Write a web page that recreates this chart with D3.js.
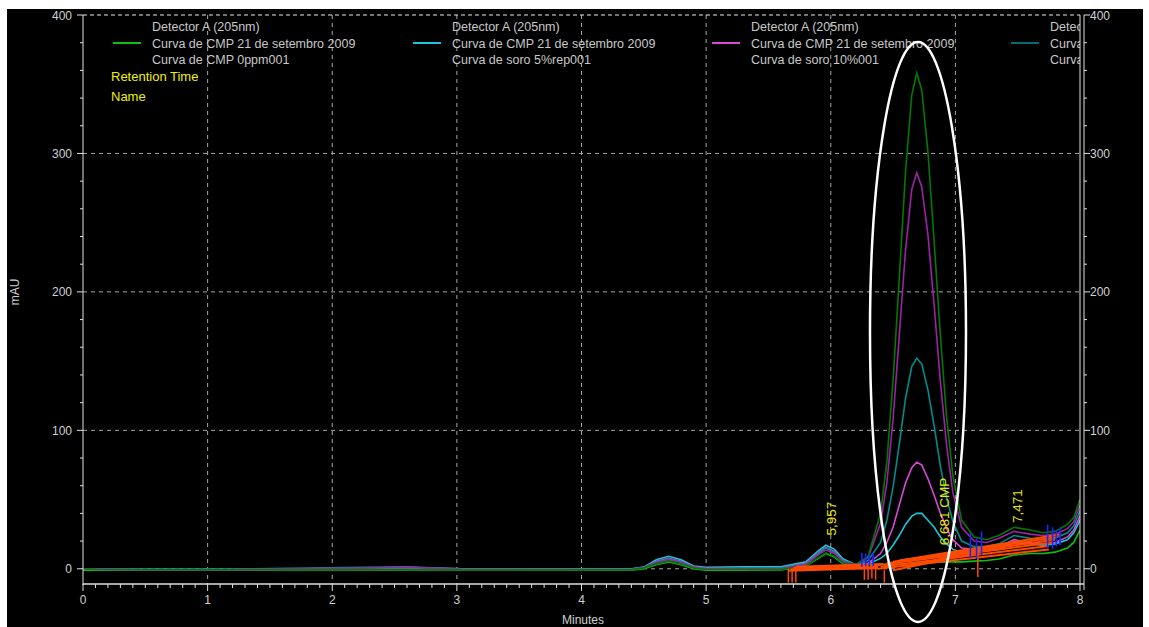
<!DOCTYPE html>
<html>
<head>
<meta charset="utf-8">
<script src="https://cdn.jsdelivr.net/npm/d3@7/dist/d3.min.js"></script>
<style>
  html, body { margin: 0; padding: 0; background: #ffffff; }
  svg { display: block; }
  text { font-family: "Liberation Sans", Arial, sans-serif; }
</style>
</head>
<body>
<svg id="chart" width="1149" height="627"></svg>
<script>
// Retention times (minutes) at which every chromatogram is sampled
const times = [0, 0.1, 0.5, 1.15, 2.25, 2.6, 3.05, 4.4, 4.5, 4.6, 4.7, 4.8, 4.9, 5.0, 5.3, 5.6, 5.8, 5.9, 5.96, 6.03, 6.1,
               6.2, 6.3, 6.4, 6.45, 6.5, 6.55, 6.6, 6.65, 6.69, 6.73, 6.78, 6.83, 6.88, 6.93, 6.98, 7.05, 7.15, 7.25, 7.35, 7.47, 7.6, 7.7, 7.8, 7.9, 7.95, 8.0];

// Detector A (205nm) signal, mAU
const cmp0ppm = [-1, -1, -0.8, -0.8, -0.8, -0.8, -0.8, -1, 0, 3, 5, 3, 0, -1, -1, -0.8, 2, 7.5, 11, 8.5, 3.5,
                 2, 2.5, 3, 3, 3, 3.5, 3.5, 4, 4, 4, 4.5, 4.5, 5, 5, 5, 5, 5.5, 6, 7, 10, 11, 11, 12, 15, 19, 28];
const soro5 = [0, 0, -0.3, -0.3, 0, 0.5, 0, 0, 1.2, 6.5, 9, 6.5, 2, 1, 1.5, 1.5, 5, 13, 17, 14, 7,
               3, 3.5, 7.5, 11, 17, 24, 32, 38, 40, 40, 35, 30, 23, 18, 14, 12, 12, 13, 14, 19, 18, 17, 18, 21, 26, 35];
const soro10 = [0, -0.3, -1, -1, 0.5, 1, 0, -0.3, 1, 5.5, 7.5, 5.5, 1.5, 0.5, 0.5, 0.5, 4, 11.5, 15.5, 12.5, 6,
                3, 4, 11, 19, 30, 46, 62, 73, 77, 75, 65, 53, 40, 29, 21, 15, 14, 14, 16, 21, 19, 18, 19, 23, 28, 38];
const serie4 = [0, 0, -0.3, -0.3, 1, 1.5, -0.3, -0.3, 1, 5, 7, 5, 1.2, 0.2, 0.5, 0.5, 3.5, 11, 15, 12, 6,
                3, 6, 19, 35, 59, 90, 123, 146, 152, 148, 129, 103, 74, 51, 34, 20, 16, 16, 18, 24, 22, 21, 22, 26, 31, 42];
const serie5 = [0, -0.2, -0.5, -0.5, 0.5, 1, -0.5, -0.5, 0.8, 4.5, 6.5, 4.5, 1, 0, 0, 0, 3, 10, 13.5, 11, 5,
                3, 8, 33, 62, 108, 169, 230, 274, 286, 276, 241, 190, 135, 89, 55, 30, 20, 19, 22, 27, 25, 24, 25, 29, 34, 46];
const serie6 = [0, -0.5, -0.8, -0.8, -0.5, -0.5, -0.8, -0.8, 0.5, 3.5, 5.5, 3.5, 0.5, -0.5, -0.5, -0.5, 2, 8, 11.5, 9, 4,
                3, 9, 40, 77, 136, 210, 287, 342, 358, 346, 301, 236, 168, 109, 67, 35, 23, 21, 24, 30, 28, 26, 27, 32, 37, 50];

const seriesValues = [cmp0ppm, soro5, soro10, serie4, serie5, serie6];
const seriesColors = ["#10c010", "#18c8d8", "#d848d8", "#008c8c", "#a020a8", "#007a00"];

// Legend entries (three text rows each); the last column runs into the plot edge
const legendHeaders = ["Detector A (205nm)", "Detector A (205nm)", "Detector A (205nm)", "Detec"];
const legendTitles = ["Curva de CMP 21 de setembro 2009", "Curva de CMP 21 de setembro 2009", "Curva de CMP 21 de setembro 2009", "Curva"];
const legendSamples = ["Curva de CMP 0ppm001", "Curva de soro 5%rep001", "Curva de soro 10%001", "Curva"];
const legendColors = ["#10c010", "#18c8d8", "#d848d8", "#006c74"];

// Integration baselines [t0, v0, t1, v1]
const baselineSegs = [
  [5.66, -1.5, 6.38, 0.5], [5.68, -0.5, 6.38, 1.5], [5.70, 0.5, 6.40, 2.5], [5.72, 1.5, 6.42, 3.5],
  [6.38, 0.0, 7.75, 14], [6.40, 1.5, 7.75, 16.5], [6.42, 3.0, 7.78, 19], [6.45, 4.0, 7.80, 21],
  [6.50, 5.0, 7.82, 23], [6.55, 6.0, 7.85, 25], [6.50, -1.0, 7.20, 12], [6.60, 1.0, 7.25, 15]
];
// Peak start/end markers [t, vTop, vBottom]
const orangeMarks = [[5.66, 0, -10], [5.69, 0, -10], [5.72, 0, -10], [6.27, 3, -8], [6.30, 3, -8], [6.33, 3, -7],
                     [6.36, 3, -8], [6.43, -1, -10], [7.18, 14, -6]];
const blueMarks = [[6.25, 11.5, 1.5], [6.28, 11, 2], [6.31, 11, 1.5], [6.34, 11.5, 2], [7.12, 26, 8], [7.17, 22, 7],
                   [7.21, 27, 10], [7.74, 32, 15], [7.78, 30, 14], [7.81, 28, 16], [7.84, 30, 17]];

// Peak annotations
const peakLabels = [
  { t: 5.957, text: "5,957", v: 24, dx: 11 },
  { t: 6.681, text: "6,681  CMP", v: 17, dx: 33 },
  { t: 7.471, text: "7,471", v: 33, dx: 8 }
];
const yTicks = [0, 100, 200, 300, 400];
const xTicks = [0, 1, 2, 3, 4, 5, 6, 7, 8];

const svg = d3.select("#chart");
const pLeft = 83, pRight = 1080, pTop = 15, pBottom = 584;

svg.append("rect").attr("x", 7).attr("y", 9).attr("width", 1136).attr("height", 618).attr("fill", "#000");

const x = d3.scaleLinear().domain([0, 8]).range([pLeft, pRight]);
const y = d3.scaleLinear().domain([-11, 400]).range([pBottom, pTop]);

const defs = svg.append("defs");
defs.append("clipPath").attr("id", "plotClip")
  .append("rect").attr("x", pLeft).attr("y", pTop).attr("width", pRight - pLeft).attr("height", pBottom - pTop);
defs.append("clipPath").attr("id", "edgeClip")
  .append("rect").attr("x", 1110).attr("y", 250).attr("width", 14).attr("height", 80);

// Grid
const grid = svg.append("g");
grid.selectAll(".vg").data(xTicks.slice(1, -1)).join("line")
  .attr("x1", d => x(d)).attr("x2", d => x(d)).attr("y1", pTop).attr("y2", pBottom)
  .attr("stroke", "#a8a8a8").attr("stroke-dasharray", "4,4");
grid.selectAll(".hg").data([0, 100, 200, 300]).join("line")
  .attr("x1", pLeft).attr("x2", pRight).attr("y1", d => y(d)).attr("y2", d => y(d))
  .attr("stroke", "#a8a8a8").attr("stroke-dasharray", "4,4");
grid.append("line").attr("x1", pLeft).attr("x2", pRight).attr("y1", y(400)).attr("y2", y(400))
  .attr("stroke", "#e8e8e8").attr("stroke-dasharray", "4,3").attr("stroke-width", 1.2);

// Legend
const leg = svg.append("g").attr("clip-path", "url(#plotClip)");
const colX = [152, 452, 751, 1050];
colX.forEach((cx, i) => {
  leg.append("line").attr("x1", cx - 39).attr("x2", cx - 11).attr("y1", 43).attr("y2", 43)
    .attr("stroke", legendColors[i]).attr("stroke-width", 2);
  [legendHeaders[i], legendTitles[i], legendSamples[i]].forEach((t, r) => {
    leg.append("text").attr("x", cx).attr("y", 31 + r * 16.5).attr("fill", "#c8c8c8")
      .attr("font-size", 12.5).text(t);
  });
});
svg.append("text").attr("x", 111).attr("y", 81).attr("fill", "#f0f000").attr("font-size", 13).text("Retention Time");
svg.append("text").attr("x", 111).attr("y", 101).attr("fill", "#f0f000").attr("font-size", 13).text("Name");

// Chromatograms
const line = d3.line().x((d, i) => x(times[i])).y(d => y(d));
const traces = svg.append("g").attr("clip-path", "url(#plotClip)");
seriesValues.forEach((vals, i) => {
  traces.append("path").datum(vals).attr("d", line).attr("fill", "none")
    .attr("stroke", seriesColors[i]).attr("stroke-width", 1.6);
});

// Integration baselines and peak markers
traces.selectAll(".bl").data(baselineSegs).join("line")
  .attr("x1", d => x(d[0])).attr("y1", d => y(d[1])).attr("x2", d => x(d[2])).attr("y2", d => y(d[3]))
  .attr("stroke", "#ff4a00").attr("stroke-width", 2);
traces.selectAll(".om").data(orangeMarks).join("line")
  .attr("x1", d => x(d[0])).attr("x2", d => x(d[0])).attr("y1", d => y(d[1])).attr("y2", d => y(d[2]))
  .attr("stroke", "#ff4a00").attr("stroke-width", 1.5);
traces.selectAll(".bm").data(blueMarks).join("line")
  .attr("x1", d => x(d[0])).attr("x2", d => x(d[0])).attr("y1", d => y(d[1])).attr("y2", d => y(d[2]))
  .attr("stroke", "#1428ff").attr("stroke-width", 1.6);

// Peak labels
svg.selectAll(".pl").data(peakLabels).join("text")
  .attr("transform", d => `translate(${x(d.t) + d.dx},${y(d.v)}) rotate(-90)`)
  .attr("fill", "#e8e800").attr("font-size", 13.5).text(d => d.text);

// Axes frame
const ax = svg.append("g").attr("stroke", "#e0e0e0").attr("fill", "none");
ax.append("line").attr("x1", pLeft).attr("x2", pLeft).attr("y1", pTop).attr("y2", pBottom + 1);
ax.append("line").attr("x1", pLeft).attr("x2", pRight + 4).attr("y1", pBottom).attr("y2", pBottom).attr("stroke-width", 1.5);
ax.append("line").attr("x1", pRight).attr("x2", pRight).attr("y1", pTop).attr("y2", pBottom);
ax.append("line").attr("x1", pRight + 4).attr("x2", pRight + 4).attr("y1", pTop).attr("y2", pBottom + 6);

// Left and right axis ticks
const yMinor = d3.range(0, 401, 20);
ax.selectAll(".ly").data(yMinor).join("line")
  .attr("x1", d => d % 100 === 0 ? pLeft - 6 : pLeft - 3).attr("x2", pLeft)
  .attr("y1", d => y(d)).attr("y2", d => y(d));
ax.selectAll(".ry").data(yMinor).join("line")
  .attr("x1", pRight + 4).attr("x2", d => d % 100 === 0 ? pRight + 10 : pRight + 7)
  .attr("y1", d => y(d)).attr("y2", d => y(d));
svg.selectAll(".lyl").data(yTicks).join("text")
  .attr("x", pLeft - 11).attr("y", d => y(d) + 4.5).attr("text-anchor", "end")
  .attr("fill", "#d0d0d0").attr("font-size", 12).text(d => d);
svg.selectAll(".ryl").data(yTicks).join("text")
  .attr("x", pRight + 10).attr("y", d => y(d) + 4.5).attr("text-anchor", "start")
  .attr("fill", "#d0d0d0").attr("font-size", 12).text(d => d);

// Bottom axis ticks
const xMinor = d3.range(0, 80.5, 1).map(d => d / 10);
ax.selectAll(".bx").data(xMinor).join("line")
  .attr("x1", d => x(d)).attr("x2", d => x(d)).attr("y1", pBottom)
  .attr("y2", (d, i) => i % 10 === 0 ? pBottom + 7 : pBottom + 4);
svg.selectAll(".bxl").data(xTicks).join("text")
  .attr("x", d => x(d)).attr("y", pBottom + 20).attr("text-anchor", "middle")
  .attr("fill", "#d0d0d0").attr("font-size", 12).text(d => d);

// Axis titles
svg.append("text").attr("x", 583).attr("y", 624).attr("text-anchor", "middle")
  .attr("fill", "#d0d0d0").attr("font-size", 12).text("Minutes");
svg.append("text").attr("transform", `translate(19,${y(200)}) rotate(-90)`).attr("text-anchor", "middle")
  .attr("fill", "#d0d0d0").attr("font-size", 12).text("mAU");
svg.append("text").attr("clip-path", "url(#edgeClip)")
  .attr("transform", `translate(1131,${y(200)}) rotate(-90)`).attr("text-anchor", "middle")
  .attr("fill", "#d0d0d0").attr("font-size", 12).text("mAU");

// Highlight around the CMP peak
svg.append("ellipse").attr("cx", x(6.7)).attr("cy", 332).attr("rx", 48).attr("ry", 290)
  .attr("fill", "none").attr("stroke", "#ffffff").attr("stroke-width", 2.5);
</script>
</body>
</html>
